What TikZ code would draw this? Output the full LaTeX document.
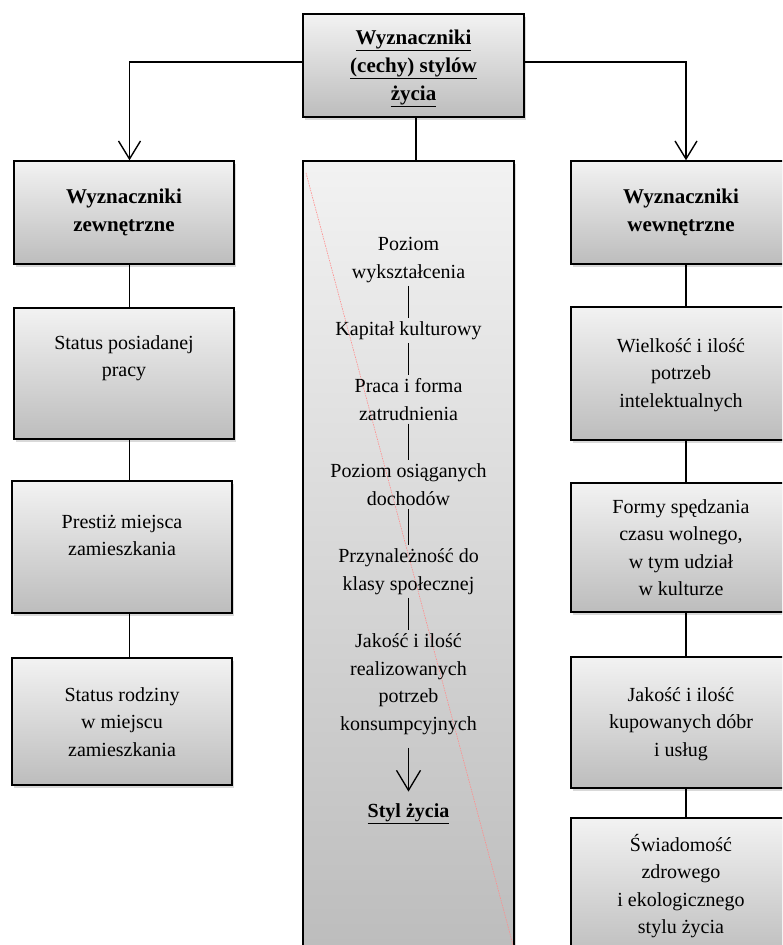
\documentclass[tikz,border=0pt]{standalone}
\usepackage{fontspec}
\setmainfont{Liberation Serif}
\usetikzlibrary{arrows.meta,shadows,calc}

\begin{document}
\begin{tikzpicture}[x=1pt,y=-1pt,
 box/.style={draw=black, line width=1.4pt, shading=axis, top color=black!5, bottom color=black!26,
   drop shadow={shadow xshift=2pt,shadow yshift=-3pt,opacity=0.3}, inner sep=0pt},
 txt/.style={align=center, font=\fontsize{20}{27.5}\selectfont, anchor=base, text=black},
 htxt/.style={align=center, font=\fontsize{21}{28}\selectfont\bfseries, anchor=base, text=black},
 conn/.style={line width=1.4pt},
 arr/.style={line width=1.4pt, -{Straight Barb[length=18pt,width=22pt]}},
 ]
\useasboundingbox (0,0) rectangle (782,945);
\clip (0,0) rectangle (782,945);

% boxes
\node[box, minimum width=221pt, minimum height=103pt] (T) at (413.5,65.5) {};
\node[box, minimum width=211pt, minimum height=789pt] (M) at (408.5,555.5) {};
\node[box, minimum width=220pt, minimum height=103pt] (L1) at (124,212.5) {};
\node[box, minimum width=220pt, minimum height=131pt] (L2) at (124,373.5) {};
\node[box, minimum width=220pt, minimum height=132pt] (L3) at (122,547) {};
\node[box, minimum width=220pt, minimum height=127pt] (L4) at (122,721.5) {};
\node[box, minimum width=220pt, minimum height=103pt] (R1) at (681,212.5) {};
\node[box, minimum width=220pt, minimum height=133pt] (R2) at (681,373.5) {};
\node[box, minimum width=220pt, minimum height=129pt] (R3) at (681,547.5) {};
\node[box, minimum width=220pt, minimum height=131pt] (R4) at (681,722.5) {};
\node[box, minimum width=220pt, minimum height=142pt] (R5) at (681,889) {};

% faint pink diagonal line in the middle box
\coordinate (pA) at (306,173);
\coordinate (pB) at (513,945);
\draw[red!45, line width=0.6pt, dash pattern=on 1.5pt off 1pt] (pA) -- (pB);

% texts (anchor = baseline of the last line)
\node[htxt] (tT) at (413.5,100) {\underline{Wyznaczniki}\\\underline{(cechy) stylów}\\\underline{życia}};
\node[htxt] (tL1) at (124,231) {Wyznaczniki\\zewnętrzne};
\node[txt] (tL2) at (124,376.5) {Status posiadanej\\pracy};
\node[txt] (tL3) at (122,555.5) {Prestiż miejsca\\zamieszkania};
\node[txt] (tL4) at (122,756) {Status rodziny\\w miejscu\\zamieszkania};
\node[htxt] (tR1) at (681,231) {Wyznaczniki\\wewnętrzne};
\node[txt] (tR2) at (681,407) {Wielkość i ilość\\potrzeb\\intelektualnych};
\node[txt] (tR3) at (681,595.5) {Formy spędzania\\czasu wolnego,\\w tym udział\\w kulturze};
\node[txt] (tR4) at (681,756) {Jakość i ilość\\kupowanych dóbr\\i usług};
\node[txt] (tR5) at (681,933.5) {Świadomość\\zdrowego\\i ekologicznego\\stylu życia};

\node[txt] (m1) at (408.5,278) {Poziom\\wykształcenia};
\node[txt] (m2) at (408.5,335) {Kapitał kulturowy};
\node[txt] (m3) at (408.5,420) {Praca i forma\\zatrudnienia};
\node[txt] (m4) at (408.5,505) {Poziom osiąganych\\dochodów};
\node[txt] (m5) at (408.5,590) {Przynależność do\\klasy społecznej};
\node[txt] (m6) at (408.5,730) {Jakość i ilość\\realizowanych\\potrzeb\\konsumpcyjnych};
\node[htxt, font=\fontsize{20}{27.5}\selectfont\bfseries] (s) at (408.5,817) {\underline{Styl życia}};

% connectors
\coordinate (lc) at (129.5,62);
\coordinate (rc) at (686,62);
\coordinate (mc) at (416,0);
\draw[arr] (T.west |- lc) -| (L1.north -| lc);
\draw[arr] (T.east |- rc) -| (R1.north -| rc);
\draw[conn] (T.south -| mc) -- (M.north -| mc);
\draw[conn] (L1.south -| lc) -- (L2.north -| lc);
\draw[conn] (L2.south -| lc) -- (L3.north -| lc);
\draw[conn] (L3.south -| lc) -- (L4.north -| lc);
\draw[conn] (R1.south -| rc) -- (R2.north -| rc);
\draw[conn] (R2.south -| rc) -- (R3.north -| rc);
\draw[conn] (R3.south -| rc) -- (R4.north -| rc);
\draw[conn] (R4.south -| rc) -- (R5.north -| rc);

\draw[conn, line width=1.3pt] (m1) -- (m2);
\draw[conn, line width=1.3pt] (m2) -- (m3);
\draw[conn, line width=1.3pt] (m3) -- (m4);
\draw[conn, line width=1.3pt] (m4) -- (m5);
\draw[conn, line width=1.3pt] (m5) -- (m6);
\draw[line width=1.3pt, -{Straight Barb[length=20pt,width=24pt]}, shorten <=10pt, shorten >=8pt] (m6) -- (s);
\end{tikzpicture}
\end{document}
